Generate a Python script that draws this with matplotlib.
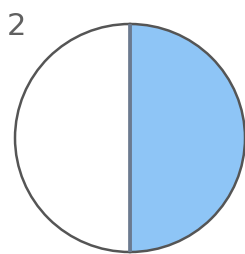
import matplotlib
matplotlib.use('Agg')
import matplotlib.pyplot as plt

# one circle split into two equal parts, one part shaded
parts = [1, 1]
part_colors = ['#8ec5f6', '#ffffff']
label = '2'

fig = plt.figure(figsize=(2.45, 2.54), dpi=100)
fig.patch.set_facecolor('white')

# axes placed so the circle spans the same pixels as the reference
ax = fig.add_axes([15 / 245, 2 / 254, 230 / 245, 228 / 254])
wedges, _ = ax.pie(parts, colors=part_colors, startangle=90, counterclock=False,
                   wedgeprops=dict(edgecolor='#555555', linewidth=1.8))
ax.set_aspect('auto')
ax.set_xlim(-1, 1)
ax.set_ylim(-1, 1)
ax.axis('off')

# divider line between the two halves
ax.plot([0, 0], [-1, 1], color='#6b7a90', linewidth=2.6, solid_capstyle='butt')

fig.text(7 / 245, 1 - 35 / 254, label, fontsize=22, color='#606060',
         family='DejaVu Sans', va='baseline')

fig.savefig('out.png', dpi=100, facecolor='white')
